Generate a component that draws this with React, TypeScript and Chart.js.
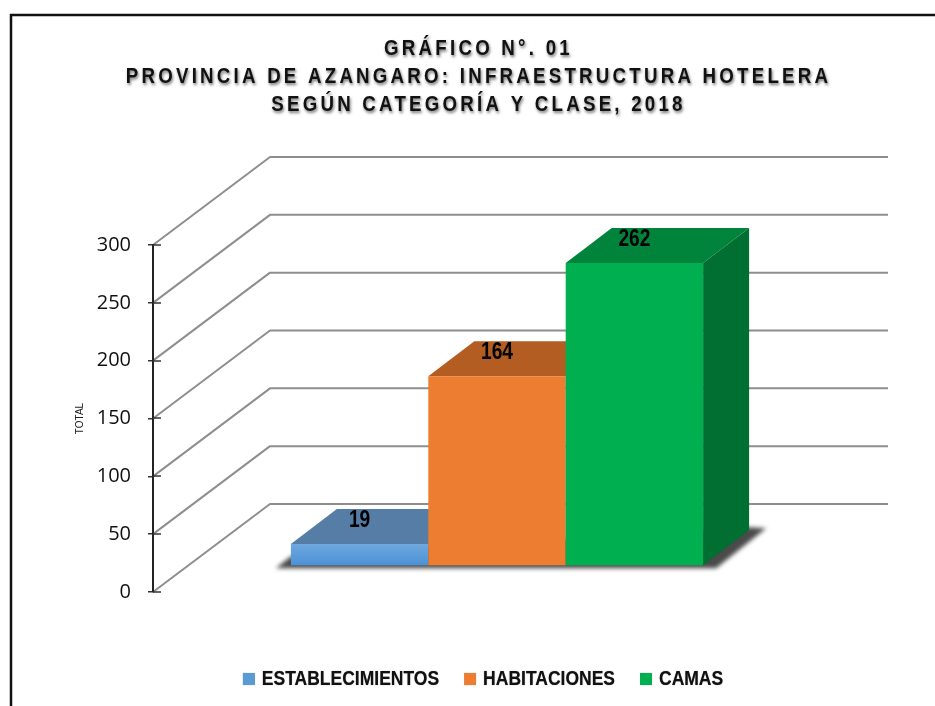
import React, { useEffect, useRef } from "react";
import { Chart, registerables } from "chart.js";

Chart.register(...registerables);

const categories = ["INFRAESTRUCTURA HOTELERA"];
const seriesNames = ["ESTABLECIMIENTOS", "HABITACIONES", "CAMAS"];
const establecimientos = [19];
const habitaciones = [164];
const camas = [262];
const titleLines = [
  "GRÁFICO N°. 01",
  "PROVINCIA DE AZANGARO: INFRAESTRUCTURA HOTELERA",
  "SEGÚN CATEGORÍA Y CLASE, 2018",
];
const axisTitle = "TOTAL";
const frontColors = ["#5B9BD5", "#ED7D31", "#00B050"];
const topColors = ["#557DA6", "#B45D22", "#00843B"];
const sideColors = ["#3F6690", "#94501E", "#006F31"];

const WALL = { dx: 117, dy: -88, right: 888 };
const PLANE = { dx: 35, dy: -26 };
const DEPTH = { dx: 46, dy: -35 };

// Runs fn with horizontally condensed text, since no narrow face is installed.
const narrowed = (ctx: any, f: number, fn: () => any) => {
  const proto = CanvasRenderingContext2D.prototype;
  ctx.fillText = (t: string, x: number, y: number) => {
    ctx.save();
    ctx.translate(x, y);
    ctx.scale(f, 1);
    proto.fillText.call(ctx, t, 0, 0);
    ctx.restore();
  };
  ctx.measureText = (t: string) => {
    const m = proto.measureText.call(ctx, t);
    return { width: m.width * f, actualBoundingBoxAscent: m.actualBoundingBoxAscent, actualBoundingBoxDescent: m.actualBoundingBoxDescent };
  };
  const out = fn();
  delete ctx.fillText;
  delete ctx.measureText;
  return out;
};

const scene = {
  id: "scene3d",
  beforeLayout(chart: any) {
    const title = chart.titleBlock;
    if (title && !title.__patched) {
      const orig = title.draw;
      title.draw = function (...args: any[]) {
        const ctx = chart.ctx;
        ctx.save();
        (ctx as any).letterSpacing = "3.8px";
        ctx.shadowColor = "rgba(0,0,0,0.55)";
        ctx.shadowBlur = 3;
        ctx.shadowOffsetX = 1;
        ctx.shadowOffsetY = 1.5;
        ctx.translate(-6, 0);
        narrowed(ctx, 0.85, () => orig.apply(this, args));
        ctx.restore();
      };
      title.__patched = true;
    }
    const legend = chart.legend;
    if (legend && !legend.__patched) {
      const origDraw = legend.draw;
      const origFit = legend.fit;
      legend.fit = function (...args: any[]) {
        return narrowed(chart.ctx, 0.875, () => origFit.apply(this, args));
      };
      legend.draw = function (...args: any[]) {
        const ctx = chart.ctx;
        ctx.save();
        ctx.shadowColor = "rgba(0,0,0,0.55)";
        ctx.shadowBlur = 1;
        narrowed(ctx, 0.875, () => origDraw.apply(this, args));
        ctx.restore();
      };
      legend.__patched = true;
    }
  },
  afterLayout(chart: any) {
    chart.legend.top += 49;
    chart.legend.bottom += 49;
  },
  beforeDraw(chart: any) {
    const { ctx, scales } = chart;
    const y = scales.y;
    const left = chart.chartArea.left;
    ctx.save();
    ctx.strokeStyle = "#111111";
    ctx.lineWidth = 2.5;
    ctx.beginPath();
    ctx.moveTo(935, 15);
    ctx.lineTo(11, 15);
    ctx.lineTo(11, 706);
    ctx.stroke();
    ctx.strokeStyle = "#8E8E8E";
    ctx.lineWidth = 2;
    ctx.lineJoin = "round";
    y.ticks.forEach((t: any) => {
      const py = y.getPixelForValue(t.value);
      ctx.beginPath();
      ctx.moveTo(left, py);
      ctx.lineTo(left + WALL.dx, py + WALL.dy);
      ctx.lineTo(WALL.right, py + WALL.dy);
      ctx.stroke();
    });
    ctx.restore();
  },
  beforeDatasetsDraw(chart: any) {
    const { ctx, scales } = chart;
    const metas = chart.getSortedVisibleDatasetMetas();
    const first = metas[0].data[0].getProps(["x", "width", "base"], true);
    const last = metas[metas.length - 1].data[0].getProps(["x", "width", "base"], true);
    const fx = first.x - first.width / 2 + PLANE.dx;
    const lx = last.x + last.width / 2 + PLANE.dx;
    const by = last.base + PLANE.dy;

    ctx.save();
    ctx.filter = "blur(2px)";
    ctx.fillStyle = "#4A4A4A";
    ctx.beginPath();
    ctx.moveTo(fx - 15, by + 3);
    ctx.lineTo(fx, by - 9);
    ctx.lineTo(lx + DEPTH.dx, by + DEPTH.dy - 3);
    ctx.lineTo(lx + DEPTH.dx + 17, by + DEPTH.dy - 2);
    ctx.lineTo(lx + 13, by + 3);
    ctx.closePath();
    ctx.fill();
    ctx.restore();

    metas.forEach((meta: any, i: number) => {
      const el = meta.data[0];
      const p = el.getProps(["x", "y", "width", "base"], true);
      const l = p.x - p.width / 2 + PLANE.dx;
      const r = p.x + p.width / 2 + PLANE.dx;
      const t = p.y + PLANE.dy;
      const b = p.base + PLANE.dy;
      ctx.save();
      ctx.fillStyle = topColors[i];
      ctx.beginPath();
      ctx.moveTo(l, t);
      ctx.lineTo(l + DEPTH.dx, t + DEPTH.dy);
      ctx.lineTo(r + DEPTH.dx, t + DEPTH.dy);
      ctx.lineTo(r, t);
      ctx.closePath();
      ctx.fill();
      ctx.fillStyle = sideColors[i];
      ctx.beginPath();
      ctx.moveTo(r, t);
      ctx.lineTo(r + DEPTH.dx, t + DEPTH.dy);
      ctx.lineTo(r + DEPTH.dx, b + DEPTH.dy);
      ctx.lineTo(r, b);
      ctx.closePath();
      ctx.fill();
      ctx.translate(PLANE.dx, PLANE.dy);
      el.draw(ctx, chart.chartArea);
      ctx.restore();
    });

    ctx.save();
    ctx.font = "bold 24px 'Liberation Sans'";
    ctx.fillStyle = "#000000";
    ctx.textAlign = "center";
    ctx.textBaseline = "middle";
    narrowed(ctx, 0.8, () => {
      metas.forEach((meta: any) => {
        const p = meta.data[0].getProps(["x", "y"], true);
        const v = chart.data.datasets[meta.index].data[0];
        ctx.fillText(String(v), p.x + PLANE.dx, p.y + PLANE.dy - 24);
      });
    });
    ctx.restore();

    ctx.save();
    ctx.strokeStyle = "#333333";
    ctx.lineWidth = 1.5;
    const y = scales.y;
    const left = chart.chartArea.left;
    y.ticks.forEach((tk: any) => {
      const py = Math.round(y.getPixelForValue(tk.value));
      ctx.beginPath();
      ctx.moveTo(left, py);
      ctx.lineTo(left + 8, py);
      ctx.stroke();
    });
    ctx.restore();
    return false;
  },
};

export default function App() {
  const ref = useRef<HTMLCanvasElement>(null);
  useEffect(() => {
    if (!ref.current) return;
    const blueGradient = (c: any) => {
      const chart = c.chart;
      const y = chart.scales?.y;
      if (!y || !chart.chartArea) return frontColors[0];
      // the bar is drawn under a translated context, so these stay in axis space
      const top = y.getPixelForValue(establecimientos[0]);
      const bottom = y.getPixelForValue(0);
      const g = chart.ctx.createLinearGradient(0, top, 0, bottom);
      g.addColorStop(0, "#6FA8DE");
      g.addColorStop(1, "#4A90D6");
      return g;
    };
    const chart = new Chart(ref.current, {
      type: "bar",
      data: {
        labels: categories,
        datasets: [
          { label: seriesNames[0], data: establecimientos, backgroundColor: blueGradient, borderWidth: 0 },
          { label: seriesNames[1], data: habitaciones, backgroundColor: frontColors[1], borderWidth: 0 },
          { label: seriesNames[2], data: camas, backgroundColor: frontColors[2], borderWidth: 0 },
        ],
      },
      options: {
        responsive: false,
        animation: false,
        events: [],
        layout: { padding: { left: 34, right: 0, top: 0, bottom: 56 } },
        datasets: { bar: { categoryPercentage: 0.667, barPercentage: 1, clip: false } },
        scales: {
          x: { display: false },
          y: {
            min: 0,
            max: 300,
            ticks: {
              stepSize: 50,
              padding: 17,
              color: "#111111",
              font: { family: "'Open Sans'", size: 20 },
            },
            grid: { drawOnChartArea: false, tickLength: 5, color: "#333333", lineWidth: 1.5 },
            border: { color: "#222222", width: 2 },
            title: {
              display: true,
              text: axisTitle,
              color: "#222222",
              padding: { top: 40, bottom: 0 },
              font: { family: "'Liberation Sans'", size: 10 },
            },
            afterFit(s: any) {
              s.width = 119;
            },
          },
          spacer: {
            type: "linear",
            position: "right",
            display: true,
            ticks: { display: false },
            grid: { display: false },
            border: { display: false },
            afterFit(s: any) {
              s.width = 164;
            },
          },
        },
        plugins: {
          tooltip: { enabled: false },
          title: {
            display: true,
            text: titleLines,
            color: "#111111",
            padding: { top: 35, bottom: 126 },
            font: { family: "'Liberation Sans'", weight: "bold", size: 22, lineHeight: 1.2727 },
          },
          legend: {
            display: true,
            position: "bottom",
            labels: {
              usePointStyle: true,
              pointStyle: "rect",
              boxWidth: 6,
              boxHeight: 12,
              padding: 28,
              color: "#111111",
              font: { family: "'Liberation Sans'", weight: "bold", size: 20 },
              generateLabels(c: any) {
                const items = Chart.defaults.plugins.legend.labels.generateLabels(c);
                items.forEach((it: any, i: number) => {
                  it.fillStyle = frontColors[i];
                });
                return items;
              },
            },
          },
        },
      },
      plugins: [scene],
    } as any);
    return () => chart.destroy();
  }, []);
  return (
    <canvas
      ref={ref}
      width={935}
      height={706}
      style={{ position: "fixed", left: 0, top: 0, display: "block" }}
    />
  );
}
